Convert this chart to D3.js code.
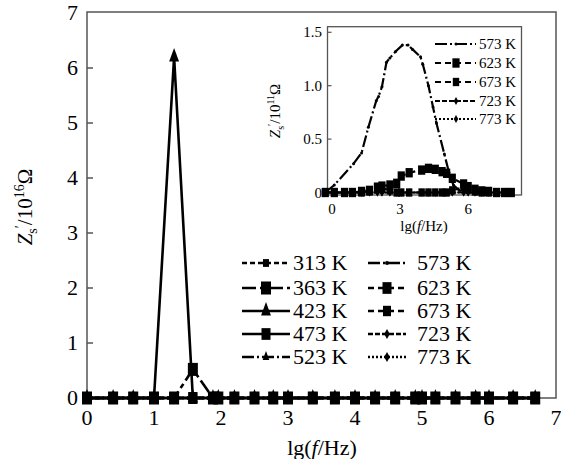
<!DOCTYPE html>
<html>
<head>
<meta charset="utf-8">
<script src="https://cdn.jsdelivr.net/npm/d3@7"></script>
<style>
  body { margin: 0; background: #fff; }
  svg { font-family: "Liberation Serif", "Times New Roman", serif; }
</style>
</head>
<body>
<svg width="561" height="459"></svg>
<script>
// main chart data (Z' in 10^16 ohm)
const lgF = [0, 0.39, 0.69, 1.0, 1.3, 1.58, 1.88, 1.96, 2.2, 2.5, 2.78, 3.0, 3.37, 3.7, 4.0, 4.3, 4.6, 4.9, 5.0, 5.2, 5.5, 5.8, 6.0, 6.36, 6.69];
const temps = ['313 K', '363 K', '423 K', '473 K', '523 K', '573 K', '623 K', '673 K', '723 K', '773 K'];
const zero = lgF.map(() => 0);
const z313 = zero.slice();
const z363 = [0, 0, 0, 0, 0, 0.52, 0, 0, 0, 0, 0, 0, 0, 0, 0, 0, 0, 0, 0, 0, 0, 0, 0, 0, 0];
const z423 = [0, 0, 0, 0, 6.2, 0, 0, 0, 0, 0, 0, 0, 0, 0, 0, 0, 0, 0, 0, 0, 0, 0, 0, 0, 0];
const z473 = zero.slice();
const z523 = zero.slice();
const z573 = zero.slice();
const z623 = zero.slice();
const z673 = zero.slice();
const z723 = zero.slice();
const z773 = zero.slice();
const mainValues = [z313, z363, z423, z473, z523, z573, z623, z673, z723, z773];

// inset data (Z' in 10^11 ohm)
const insetTemps = ['573 K', '623 K', '673 K', '723 K', '773 K'];
const inF573 = [-0.3, 0.1, 0.95, 1.3, 1.6, 1.95, 2.05, 2.2, 2.4, 2.55, 2.8, 3.1, 3.35, 3.55, 3.9, 4.0, 4.25, 4.45, 4.6, 4.95, 5.15, 5.35, 5.6, 6.0, 6.4, 6.8, 7.2, 7.6, 7.9];
const inZ573 = [0, 0.07, 0.27, 0.37, 0.61, 0.86, 0.9, 0.99, 1.22, 1.26, 1.32, 1.38, 1.38, 1.34, 1.27, 1.2, 1.0, 0.8, 0.65, 0.36, 0.19, 0.07, 0.02, 0, 0, 0, 0, 0, 0];
const inF = [-0.3, 0.1, 0.55, 0.9, 1.3, 1.65, 2.0, 2.2, 2.55, 2.85, 3.05, 3.4, 3.95, 4.25, 4.55, 4.85, 5.05, 5.3, 5.8, 6.0, 6.3, 6.6, 6.9, 7.25, 7.6, 7.9];
const inZ623 = [0, 0, 0, 0, 0.01, 0.02, 0.05, 0.06, 0.07, 0.086, 0.154, 0.185, 0.21, 0.226, 0.217, 0.195, 0.18, 0.133, 0.08, 0.055, 0.03, 0.015, 0.01, 0, 0, 0];
const inZ673 = [0, 0, 0, 0, 0, 0.01, 0.03, 0.04, 0.02, 0, 0, 0, 0, 0, 0, 0, 0, 0.02, 0.05, 0.03, 0.01, 0, 0, 0, 0, 0];
const inZ723 = inF.map(() => 0);
const inZ773 = inF.map(() => 0);

const mainTicks = [0, 1, 2, 3, 4, 5, 6, 7];
const insetXTicks = [0, 3, 6];
const insetYTicks = [0, 0.5, 1.0, 1.5];

// style per temperature: dash pattern, marker, marker size
const styles = {
  '313 K': {dash: '5,3', mark: 'square', size: 6},
  '363 K': {dash: '14,4,5,4', mark: 'square', size: 10},
  '423 K': {dash: null, mark: 'triangle', size: 9},
  '473 K': {dash: null, mark: 'square', size: 9},
  '523 K': {dash: '12,3,2,3', mark: 'triangle', size: 6},
  '573 K': {dash: '12,3,2,3', mark: 'circle', size: 4},
  '623 K': {dash: '6,4', mark: 'square', size: 9},
  '673 K': {dash: '6,4', mark: 'square', size: 8},
  '723 K': {dash: '5,2', mark: 'diamond', size: 7},
  '773 K': {dash: '2,2', mark: 'diamond', size: 7}
};

const svg = d3.select('svg');

const x = d3.scaleLinear().domain([0, 7]).range([87, 556]);
const y = d3.scaleLinear().domain([0, 7]).range([398, 13]);

const ix = d3.scaleLinear().domain([-0.2, 8.35]).range([327.5, 521.5]);
const iy = d3.scaleLinear().domain([0, 1.5]).range([192.5, 32.3]);

let drawMarker = (g, kind, cx, cy, s) => {
  if (kind === 'square') {
    g.append('rect').attr('x', cx - s / 2).attr('y', cy - s * 0.65).attr('width', s).attr('height', s * 1.3).attr('fill', '#000');
  } else if (kind === 'triangle') {
    g.append('path').attr('d', `M${cx},${cy - s}L${cx + s * 0.55},${cy + s * 0.5}L${cx - s * 0.55},${cy + s * 0.5}Z`).attr('fill', '#000');
  } else if (kind === 'diamond') {
    g.append('path').attr('d', `M${cx},${cy - s * 0.7}L${cx + s * 0.4},${cy}L${cx},${cy + s * 0.7}L${cx - s * 0.4},${cy}Z`).attr('fill', '#000');
  } else {
    g.append('circle').attr('cx', cx).attr('cy', cy).attr('r', s / 2).attr('fill', '#000');
  }
}

// main frame
svg.append('rect')
   .attr('x', x(0)).attr('y', 12)
   .attr('width', x(7) - x(0)).attr('height', y(0) - 12)
   .attr('fill', 'none').attr('stroke', '#555').attr('stroke-width', 1.5);

// main ticks (inward on y)
mainTicks.slice(1, 7).forEach(t => {
  svg.append('line').attr('x1', x(0)).attr('x2', x(0) + 6).attr('y1', y(t)).attr('y2', y(t))
     .attr('stroke', '#555').attr('stroke-width', 1.5);
});
svg.append('g').selectAll('text').data(mainTicks).enter().append('text')
   .attr('x', 78).attr('y', d => y(d) + 7)
   .attr('text-anchor', 'end').attr('font-size', 22).text(d => d);
svg.append('g').selectAll('text').data(mainTicks).enter().append('text')
   .attr('x', d => x(d)).attr('y', 425)
   .attr('text-anchor', 'middle').attr('font-size', 22).text(d => d);

// main series
const mainLine = d3.line().x((d, i) => x(lgF[i])).y(d => y(d));
temps.forEach((t, k) => {
  const st = styles[t];
  const vals = mainValues[k];
  svg.append('path').datum(vals)
     .attr('d', mainLine)
     .attr('fill', 'none').attr('stroke', '#000').attr('stroke-width', 2.6)
     .attr('stroke-dasharray', st.dash);
  const g = svg.append('g');
  vals.forEach((v, i) => drawMarker(g, st.mark, x(lgF[i]), y(v), st.size));
});

// main legend
const legRowsY = [263, 288, 311, 334, 357];
temps.forEach((t, k) => {
  const st = styles[t];
  const col = k < 5 ? 0 : 1;
  const ry = legRowsY[k % 5];
  const x0 = col === 0 ? 242 : 368;
  const x1 = col === 0 ? 290 : 406;
  const g = svg.append('g');
  g.append('line').attr('x1', x0).attr('x2', x1).attr('y1', ry).attr('y2', ry)
   .attr('stroke', '#000').attr('stroke-width', 2.6).attr('stroke-dasharray', st.dash);
  drawMarker(g, st.mark, (x0 + x1) / 2, ry, st.size);
  g.append('text').attr('x', col === 0 ? 293 : 417).attr('y', ry + 7)
   .attr('font-size', 22).text(t);
});

// main axis titles
const xt = svg.append('text').attr('x', 322).attr('y', 455).attr('text-anchor', 'middle').attr('font-size', 22);
xt.append('tspan').text('lg(');
xt.append('tspan').attr('font-style', 'italic').text('f');
xt.append('tspan').text('/Hz)');

const yt = svg.append('text').attr('transform', 'translate(32,207) rotate(-90)')
   .attr('text-anchor', 'middle').attr('font-size', 21);
yt.append('tspan').attr('font-style', 'italic').text('Z');
yt.append('tspan').attr('font-size', 14).attr('dy', 5).text('s');
yt.append('tspan').attr('dy', -12).attr('font-size', 14).text('′');
yt.append('tspan').attr('dy', 7).text('/10');
yt.append('tspan').attr('font-size', 14).attr('dy', -8).text('16');
yt.append('tspan').attr('dy', 8).text('Ω');

// inset
const inset = svg.append('g');
inset.append('rect')
   .attr('x', ix(-0.2)).attr('y', 26.7)
   .attr('width', ix(8.35) - ix(-0.2)).attr('height', 195 - 26.7)
   .attr('fill', '#fff').attr('stroke', '#555').attr('stroke-width', 1.3);

insetYTicks.slice(1).forEach(t => {
  inset.append('line').attr('x1', ix(-0.2)).attr('x2', ix(-0.2) + 4).attr('y1', iy(t)).attr('y2', iy(t))
       .attr('stroke', '#555').attr('stroke-width', 1.2);
});
inset.append('g').selectAll('text').data(insetYTicks).enter().append('text')
   .attr('x', 322).attr('y', d => iy(d) + 5)
   .attr('text-anchor', 'end').attr('font-size', 15).text(d => d === 0 ? '0' : d.toFixed(1));
inset.append('g').selectAll('text').data(insetXTicks).enter().append('text')
   .attr('x', d => ix(d)).attr('y', 214)
   .attr('text-anchor', 'middle').attr('font-size', 15).text(d => d);

const insetSeries = [
  {t: '573 K', xs: inF573, ys: inZ573},
  {t: '623 K', xs: inF, ys: inZ623},
  {t: '673 K', xs: inF, ys: inZ673},
  {t: '723 K', xs: inF, ys: inZ723},
  {t: '773 K', xs: inF, ys: inZ773}
];
insetSeries.slice().reverse().forEach(s => {
  const st = styles[s.t];
  const line = d3.line().x((d, i) => ix(s.xs[i])).y(d => iy(d));
  inset.append('path').datum(s.ys).attr('d', line)
       .attr('fill', 'none').attr('stroke', '#000').attr('stroke-width', 2.2)
       .attr('stroke-dasharray', st.dash);
  const g = inset.append('g');
  const sz = s.t === '573 K' ? 3 : st.size * 0.8;
  s.ys.forEach((v, i) => drawMarker(g, st.mark, ix(s.xs[i]), iy(v), sz));
});

// inset legend
const inLegY = [44, 63, 82, 101, 119];
insetTemps.forEach((t, k) => {
  const st = styles[t];
  const g = inset.append('g');
  g.append('line').attr('x1', 435).attr('x2', 476).attr('y1', inLegY[k]).attr('y2', inLegY[k])
   .attr('stroke', '#000').attr('stroke-width', 2.2).attr('stroke-dasharray', st.dash);
  drawMarker(g, st.mark, 456, inLegY[k], t === '573 K' ? 3 : st.size * 0.8);
  g.append('text').attr('x', 479).attr('y', inLegY[k] + 5).attr('font-size', 15).text(t);
});

const ixt = inset.append('text').attr('x', 424).attr('y', 231).attr('text-anchor', 'middle').attr('font-size', 15);
ixt.append('tspan').text('lg(');
ixt.append('tspan').attr('font-style', 'italic').text('f');
ixt.append('tspan').text('/Hz)');

const iyt = inset.append('text').attr('transform', 'translate(280,111) rotate(-90)')
   .attr('text-anchor', 'middle').attr('font-size', 15);
iyt.append('tspan').attr('font-style', 'italic').text('Z');
iyt.append('tspan').attr('font-size', 10).attr('dy', 4).text('s');
iyt.append('tspan').attr('dy', -9).attr('font-size', 10).text('′');
iyt.append('tspan').attr('dy', 5).text('/10');
iyt.append('tspan').attr('font-size', 10).attr('dy', -6).text('11');
iyt.append('tspan').attr('dy', 6).text('Ω');
</script>
</body>
</html>
